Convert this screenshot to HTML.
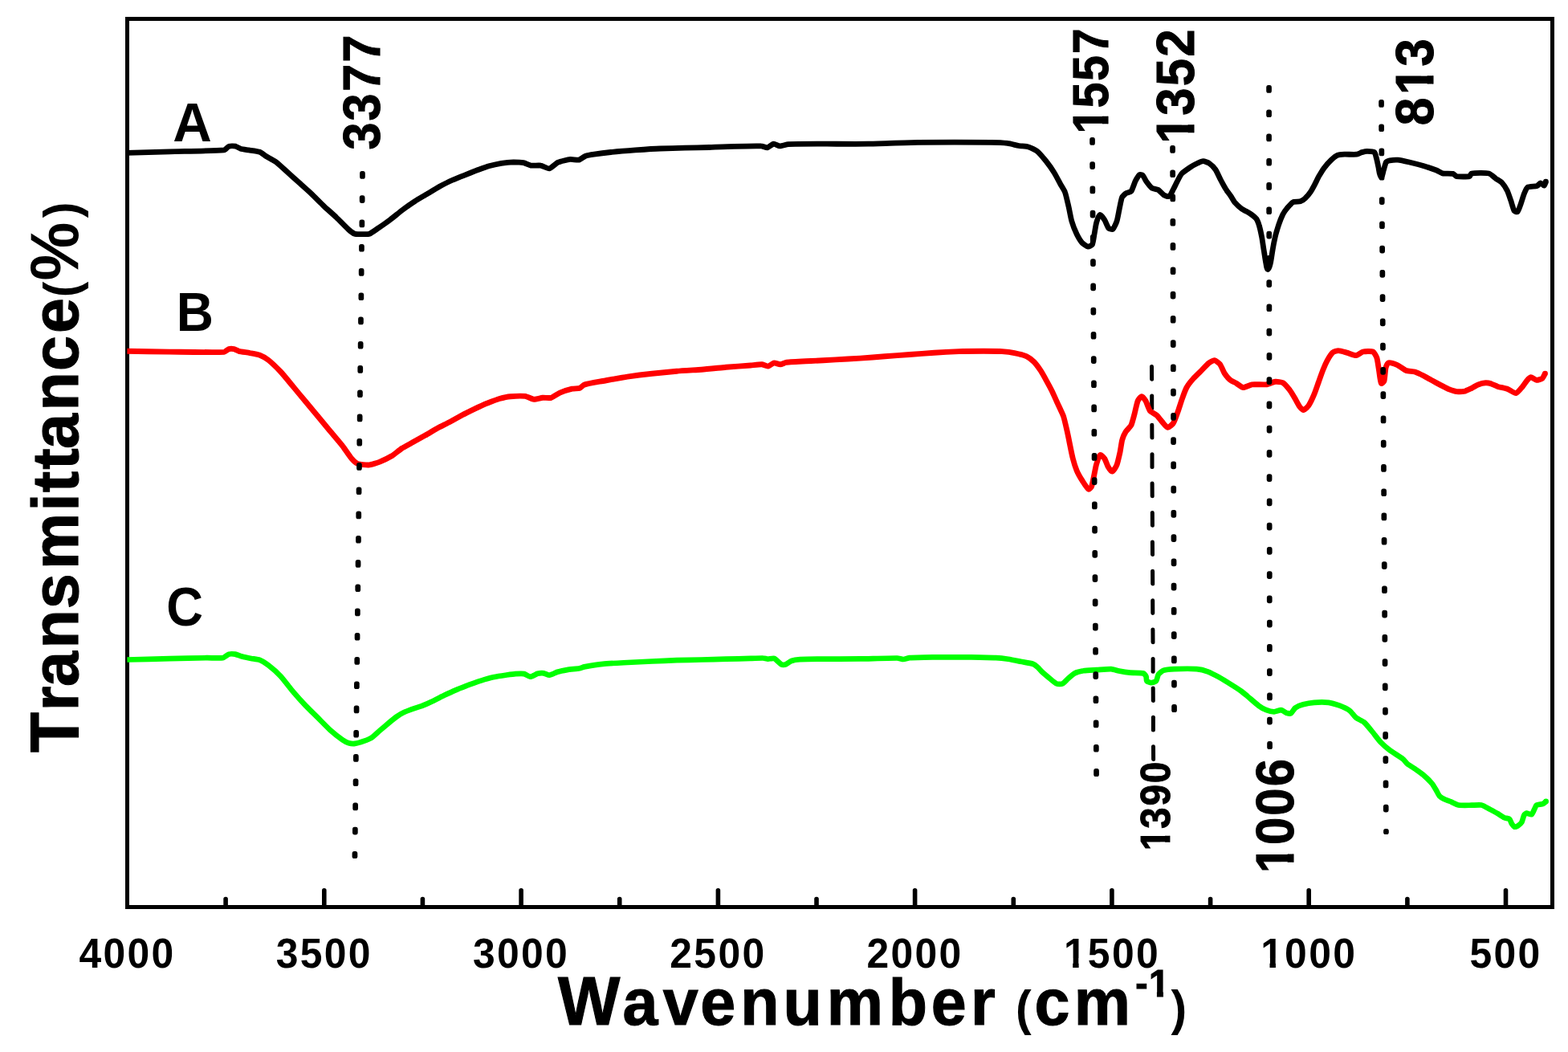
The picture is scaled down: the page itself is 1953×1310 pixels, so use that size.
<!DOCTYPE html>
<html lang="en"><head><meta charset="utf-8"><title>FTIR spectra</title>
<style>
html,body{margin:0;padding:0;background:#fff;}
body{width:1953px;height:1310px;overflow:hidden;}
svg{display:block;}
text{font-family:"Liberation Sans", sans-serif;font-weight:bold;fill:#000;font-kerning:none;font-variant-ligatures:none;white-space:pre;}
.crv{fill:none;stroke-linejoin:round;stroke-linecap:butt;}
</style></head><body>
<svg width="1953" height="1310" viewBox="0 0 1953 1310">
<rect x="0" y="0" width="1953" height="1310" fill="#fff"/>
<g id="frame" shape-rendering="crispEdges">
<rect x="158.5" y="23.5" width="1775.0" height="1106.0" fill="none" stroke="#000" stroke-width="5"/>
</g>
<g id="ticks" stroke="#000" stroke-width="5.6" stroke-linecap="round">
<line x1="1875.5" y1="1108.8" x2="1875.5" y2="1128"/>
<line x1="1752.9" y1="1119.6" x2="1752.9" y2="1128"/>
<line x1="1630.2" y1="1108.8" x2="1630.2" y2="1128"/>
<line x1="1507.6" y1="1119.6" x2="1507.6" y2="1128"/>
<line x1="1384.9" y1="1108.8" x2="1384.9" y2="1128"/>
<line x1="1262.3" y1="1119.6" x2="1262.3" y2="1128"/>
<line x1="1139.6" y1="1108.8" x2="1139.6" y2="1128"/>
<line x1="1017.0" y1="1119.6" x2="1017.0" y2="1128"/>
<line x1="894.4" y1="1108.8" x2="894.4" y2="1128"/>
<line x1="771.7" y1="1119.6" x2="771.7" y2="1128"/>
<line x1="649.1" y1="1108.8" x2="649.1" y2="1128"/>
<line x1="526.4" y1="1119.6" x2="526.4" y2="1128"/>
<line x1="403.8" y1="1108.8" x2="403.8" y2="1128"/>
<line x1="281.1" y1="1119.6" x2="281.1" y2="1128"/>
</g>
<g id="dash1390" stroke="#000" stroke-width="5" stroke-linecap="round">
<line x1="1434.5" y1="456.5" x2="1434.6" y2="472.2"/>
<line x1="1434.7" y1="492.9" x2="1434.7" y2="508.6"/>
<line x1="1434.8" y1="529.3" x2="1434.9" y2="545.0"/>
<line x1="1435.0" y1="565.7" x2="1435.0" y2="581.4"/>
<line x1="1435.1" y1="602.1" x2="1435.2" y2="617.8"/>
<line x1="1435.3" y1="638.5" x2="1435.4" y2="654.2"/>
<line x1="1435.4" y1="674.9" x2="1435.5" y2="690.6"/>
<line x1="1435.6" y1="711.3" x2="1435.7" y2="727.0"/>
<line x1="1435.7" y1="747.7" x2="1435.8" y2="763.4"/>
<line x1="1435.9" y1="784.1" x2="1436.0" y2="799.8"/>
<line x1="1436.1" y1="820.5" x2="1436.1" y2="836.2"/>
<line x1="1436.2" y1="856.9" x2="1436.3" y2="872.6"/>
<line x1="1436.4" y1="893.3" x2="1436.4" y2="909.0"/>
<line x1="1436.5" y1="929.7" x2="1436.6" y2="945.4"/>
</g>
<g id="curves">
<path class="crv" stroke="#000" stroke-width="6.8" d="M158.4 190.4C168.1 190.1 201.7 189.1 211.4 188.8C223.8 188.4 266.7 188.0 279.0 186.9C280.4 186.8 283.8 182.6 285.2 182.2C286.7 181.7 292.1 181.9 293.6 182.2C294.8 182.5 298.6 184.9 299.8 185.3C301.6 185.8 308.0 186.6 309.8 186.9C312.3 187.3 321.2 188.3 323.6 189.2C325.2 189.8 329.8 193.6 331.3 194.5C333.5 195.8 341.4 199.9 343.5 201.4C346.2 203.4 354.9 211.4 357.4 213.7C360.2 216.2 369.9 225.1 372.7 227.6C375.5 230.1 385.3 238.8 388.1 241.4C391.0 244.1 400.6 254.0 403.5 256.7C406.2 259.3 416.1 268.0 418.8 270.6C421.7 273.3 431.2 283.2 434.2 285.9C435.5 287.1 440.3 290.7 441.9 291.3C443.3 291.8 448.5 291.6 450.0 291.6C451.8 291.6 458.3 291.9 460.0 291.3C462.2 290.5 468.8 285.7 470.7 284.4C473.5 282.5 483.3 275.7 486.0 273.6C488.9 271.4 498.5 263.6 501.4 261.4C504.2 259.3 513.9 252.5 516.8 250.6C519.6 248.8 529.4 243.1 532.2 241.4C535.0 239.7 544.6 233.8 547.5 232.2C550.3 230.7 560.0 225.8 562.9 224.5C565.7 223.3 575.4 219.4 578.2 218.3C581.0 217.2 590.8 213.3 593.6 212.2C596.4 211.2 606.1 207.6 609.0 206.8C611.8 206.0 621.5 203.8 624.3 203.3C627.1 202.9 636.9 202.0 639.7 201.9C642.0 201.9 649.8 202.3 652.0 202.7C653.8 203.0 659.4 205.8 661.2 206.1C663.4 206.5 671.3 205.7 673.5 206.1C675.6 206.4 682.2 210.3 684.2 209.9C686.6 209.5 692.8 203.2 695.0 202.2C697.7 201.0 707.5 198.7 710.4 198.4C712.4 198.2 719.2 199.5 721.1 199.1C722.7 198.8 727.3 195.1 728.8 194.5C730.8 193.8 737.9 192.5 740.0 192.2C743.8 191.6 756.9 189.9 760.7 189.5C766.3 188.9 785.8 187.3 791.4 186.9C797.0 186.5 816.5 185.2 822.2 185.0C827.8 184.8 847.3 184.3 852.9 184.2C858.5 184.1 878.0 183.7 883.6 183.5C889.2 183.3 908.7 182.5 914.3 182.4C920.5 182.2 941.9 181.7 948.1 181.9C949.6 181.9 954.4 184.1 955.8 183.8C957.4 183.5 961.9 179.4 963.5 179.2C965.0 179.0 969.7 181.9 971.2 181.9C973.2 181.9 979.9 179.7 981.9 179.6C990.7 179.2 1021.2 179.2 1030.0 179.2C1039.4 179.2 1072.0 179.4 1081.4 179.2C1092.7 179.0 1131.6 177.4 1142.9 177.3C1159.8 177.1 1218.1 177.1 1235.0 177.3C1238.7 177.3 1251.4 177.9 1255.0 178.4C1257.6 178.7 1266.2 181.0 1268.8 181.5C1271.0 181.9 1278.9 182.3 1281.1 183.0C1283.2 183.6 1290.2 187.0 1291.9 188.4C1294.2 190.3 1300.9 198.2 1302.8 200.5C1304.8 203.0 1311.3 212.2 1313.0 215.0C1314.6 217.5 1319.3 226.5 1320.7 229.1C1321.7 231.0 1325.8 237.4 1326.5 239.4C1327.7 242.6 1330.2 254.0 1331.0 257.3C1331.8 260.6 1333.8 272.0 1334.8 275.2C1335.7 278.3 1339.8 288.9 1341.2 291.8C1342.2 293.8 1346.1 300.5 1347.6 302.1C1348.7 303.3 1353.6 306.9 1355.3 307.2C1356.3 307.4 1359.9 305.5 1360.4 304.6C1361.5 302.5 1362.6 294.2 1363.0 291.8C1363.5 289.2 1364.8 280.3 1365.5 277.8C1366.1 275.8 1368.1 268.2 1370.0 267.5C1371.5 266.9 1374.9 272.6 1375.8 273.9C1377.0 275.7 1379.5 282.6 1380.9 284.2C1381.5 284.9 1385.3 286.0 1386.0 285.4C1387.6 284.0 1390.5 277.2 1391.1 275.2C1392.0 272.5 1393.7 262.6 1394.3 259.8C1394.9 257.2 1396.5 248.2 1397.5 245.8C1398.0 244.6 1401.5 241.3 1402.6 240.6C1403.6 239.9 1408.2 239.1 1409.0 238.1C1410.5 236.1 1413.1 227.6 1414.2 225.3C1415.0 223.8 1418.0 218.7 1419.3 217.6C1419.9 217.2 1422.6 217.7 1423.1 218.2C1424.4 219.5 1427.1 225.1 1428.2 226.6C1429.3 228.1 1433.1 233.2 1434.6 234.2C1435.8 235.0 1441.0 235.5 1442.3 236.2C1443.9 237.2 1448.4 242.2 1450.0 243.2C1451.0 243.8 1455.4 245.2 1456.4 244.5C1458.0 243.4 1460.6 237.2 1461.5 235.5C1462.5 233.7 1465.6 227.1 1466.6 225.3C1467.5 223.6 1470.5 217.7 1471.8 216.3C1473.4 214.6 1480.1 209.9 1482.0 208.6C1483.6 207.5 1489.3 204.3 1491.0 203.5C1492.3 202.9 1497.1 200.7 1498.6 200.7C1500.1 200.7 1505.1 202.7 1506.3 203.5C1507.9 204.6 1512.9 209.6 1514.0 211.2C1515.5 213.4 1519.2 221.7 1520.4 224.0C1521.5 226.1 1525.5 233.5 1526.8 235.5C1527.9 237.2 1532.1 242.8 1533.2 244.5C1534.1 245.8 1536.7 250.5 1537.7 251.7C1539.2 253.4 1544.8 258.7 1546.6 260.0C1548.3 261.3 1555.1 264.6 1556.9 265.8C1558.4 266.8 1563.5 270.7 1564.6 272.2C1565.7 273.6 1567.9 279.4 1568.4 281.1C1569.2 283.6 1571.1 292.6 1571.6 295.2C1572.2 298.2 1573.7 308.8 1574.2 311.8C1574.7 314.6 1576.1 324.4 1576.7 327.2C1577.0 328.8 1577.7 335.5 1579.3 335.5C1580.9 335.5 1582.1 328.8 1582.5 327.2C1583.2 324.4 1584.5 314.6 1585.0 311.8C1585.5 308.7 1587.5 298.2 1588.2 295.2C1588.9 292.3 1591.8 282.6 1592.7 279.8C1593.5 277.4 1596.7 269.3 1597.8 267.0C1598.6 265.5 1601.9 260.7 1603.0 259.4C1604.3 257.9 1608.8 252.6 1610.6 251.7C1612.1 250.9 1618.0 251.3 1619.6 250.8C1620.9 250.4 1625.0 247.6 1626.0 246.6C1627.3 245.4 1631.4 240.4 1632.4 238.9C1633.5 237.3 1636.6 231.6 1637.5 229.9C1638.5 228.1 1641.6 221.5 1642.6 219.7C1643.7 217.8 1647.7 211.2 1649.0 209.4C1650.5 207.4 1656.2 200.9 1658.0 199.2C1659.3 198.0 1664.1 194.1 1665.7 193.4C1667.2 192.8 1673.0 192.3 1674.6 192.2C1677.4 192.1 1687.2 192.5 1690.0 192.2C1691.3 192.1 1695.2 190.0 1696.4 189.6C1697.5 189.3 1701.6 188.3 1702.8 188.3C1704.5 188.3 1710.4 188.6 1711.8 189.6C1712.9 190.4 1713.9 195.3 1714.3 196.6C1714.9 198.7 1716.4 206.1 1716.9 208.2C1717.4 210.4 1718.1 219.1 1720.1 220.3C1721.5 221.1 1722.8 213.5 1723.3 212.0C1723.9 210.1 1725.5 203.5 1726.5 201.8C1727.0 201.0 1730.1 200.0 1731.0 199.8C1732.8 199.5 1739.3 199.0 1741.2 199.2C1744.0 199.5 1753.6 201.6 1756.4 202.2C1759.4 202.9 1769.7 205.6 1772.7 206.5C1775.7 207.4 1786.1 210.9 1789.1 212.0C1790.6 212.6 1795.2 215.5 1796.7 215.8C1799.1 216.3 1807.5 215.9 1809.8 216.4C1810.8 216.6 1813.2 219.4 1814.2 219.6C1817.2 220.1 1827.6 220.2 1830.5 219.6C1831.3 219.5 1831.9 216.1 1832.7 216.0C1836.7 215.4 1850.6 215.2 1854.5 216.0C1856.4 216.4 1861.6 221.2 1863.2 222.4C1864.6 223.4 1869.7 226.5 1870.9 227.8C1872.4 229.4 1876.4 235.7 1877.4 237.6C1878.4 239.7 1881.0 247.4 1881.8 249.6C1882.6 252.0 1884.8 260.5 1886.1 262.7C1886.5 263.3 1889.5 264.3 1890.0 263.8C1891.2 262.6 1893.2 256.7 1893.8 255.1C1894.7 252.7 1897.2 244.3 1898.1 242.0C1898.8 240.3 1901.0 234.3 1902.5 233.3C1904.4 232.1 1912.4 232.3 1914.5 231.6C1915.5 231.3 1917.8 227.9 1918.9 227.8C1919.9 227.7 1922.2 231.3 1923.2 231.1C1924.2 230.9 1925.0 227.1 1925.4 226.2"/>
<circle cx="1925.4" cy="226.2" r="3.40" fill="#000"/>
<path class="crv" stroke="#f00" stroke-width="6.9" d="M158.4 437.2C168.1 437.4 201.7 438.0 211.4 438.1C223.8 438.2 266.6 439.0 279.0 438.4C280.3 438.3 283.9 435.0 285.2 434.6C286.3 434.3 290.2 434.4 291.3 434.6C292.5 434.9 296.3 437.0 297.5 437.3C300.0 437.9 308.8 439.1 311.3 439.6C313.6 440.0 321.4 441.4 323.6 442.2C325.7 443.0 332.5 447.0 334.3 448.4C337.3 450.8 347.0 460.2 349.7 463.0C352.7 466.2 362.3 478.0 365.1 481.4C367.9 484.8 377.6 496.4 380.4 499.8C383.2 503.2 393.0 514.9 395.8 518.3C398.6 521.7 408.3 533.3 411.1 536.7C413.9 540.1 423.8 551.6 426.5 555.1C428.7 557.9 435.4 568.1 437.7 570.8C438.9 572.2 443.7 576.7 445.4 577.4C447.8 578.3 456.7 579.2 459.2 579.0C461.8 578.8 470.6 576.1 473.0 575.1C475.9 573.9 485.7 569.1 488.4 567.5C490.8 566.0 498.3 559.7 500.7 558.2C503.1 556.6 512.0 552.0 514.5 550.6C517.3 549.0 527.0 543.7 529.8 542.1C532.6 540.5 542.3 534.5 545.2 532.9C548.0 531.4 557.8 526.7 560.6 525.2C563.4 523.7 573.1 518.3 575.9 516.8C578.7 515.3 588.4 510.5 591.3 509.1C594.1 507.8 603.8 503.4 606.6 502.2C609.4 501.1 619.1 497.3 622.0 496.5C624.5 495.8 633.2 493.9 635.8 493.7C639.2 493.4 650.9 493.0 654.3 493.4C656.4 493.7 662.9 497.1 665.0 497.3C667.0 497.5 673.8 495.5 675.8 495.3C677.8 495.1 684.6 495.8 686.5 495.3C688.7 494.7 695.2 490.0 697.3 489.1C700.0 487.9 709.7 484.9 712.6 484.2C714.3 483.8 720.3 483.9 721.9 483.4C723.2 483.0 726.4 479.5 727.7 479.1C731.8 477.8 746.5 475.3 750.7 474.5C756.3 473.5 775.7 469.9 781.4 469.1C787.0 468.3 806.5 465.9 812.2 465.3C817.8 464.7 837.3 462.7 842.9 462.2C848.5 461.7 868.0 460.6 873.6 460.2C879.2 459.8 898.7 457.8 904.3 457.3C909.9 456.8 929.4 455.4 935.0 455.0C937.5 454.8 946.3 453.7 948.9 453.8C950.4 453.9 955.1 456.3 956.6 456.1C958.2 455.9 962.6 452.1 964.2 451.9C965.6 451.7 970.4 453.9 971.9 453.8C973.4 453.7 978.1 451.4 979.6 451.2C985.1 450.6 1004.4 449.8 1010.0 449.5C1015.6 449.2 1035.1 448.2 1040.7 447.9C1046.3 447.6 1065.8 446.5 1071.4 446.1C1077.0 445.7 1096.6 444.2 1102.2 443.8C1107.8 443.4 1127.3 441.9 1132.9 441.5C1138.5 441.1 1158.0 439.6 1163.6 439.2C1169.2 438.8 1188.7 437.8 1194.3 437.6C1199.9 437.4 1219.4 437.3 1225.0 437.3C1229.2 437.3 1243.9 437.3 1248.1 437.6C1250.9 437.8 1260.7 439.0 1263.5 439.6C1266.4 440.2 1276.2 442.6 1278.8 443.8C1280.7 444.7 1286.5 449.2 1288.0 450.7C1289.8 452.5 1294.9 459.5 1296.3 461.6C1297.7 463.7 1301.8 471.1 1303.0 473.3C1304.4 475.8 1309.0 484.4 1310.3 487.0C1311.7 489.9 1316.3 500.3 1317.7 503.3C1319.0 506.1 1323.6 515.6 1324.6 518.5C1325.6 521.5 1328.0 532.0 1328.7 535.1C1329.4 538.1 1331.6 548.7 1332.2 551.7C1332.9 555.2 1335.4 567.5 1336.3 571.0C1337.0 573.8 1340.1 583.5 1341.2 586.2C1342.2 588.6 1346.7 596.5 1348.1 598.7C1349.4 600.7 1353.8 607.9 1355.8 609.2C1356.6 609.7 1359.1 606.8 1359.5 606.0C1360.3 604.3 1361.5 597.8 1361.9 595.9C1362.6 592.9 1364.5 582.3 1365.3 579.3C1366.0 576.9 1368.3 568.2 1370.2 566.7C1371.2 565.9 1375.0 569.9 1375.7 571.0C1376.8 572.6 1378.9 579.0 1379.9 580.7C1380.7 582.0 1383.5 587.3 1385.0 587.1C1386.8 586.9 1390.2 581.0 1390.9 579.3C1392.1 576.4 1394.4 565.8 1395.1 562.7C1395.7 559.9 1397.0 550.2 1397.8 547.5C1398.3 545.6 1401.0 539.4 1402.0 537.8C1403.0 536.1 1408.0 531.3 1408.9 529.5C1410.1 527.1 1412.3 518.2 1413.0 515.7C1413.8 512.7 1416.0 502.0 1417.2 499.1C1417.7 497.9 1420.7 493.6 1422.0 493.6C1423.4 493.6 1426.2 497.9 1426.9 499.1C1428.2 501.3 1430.9 509.6 1432.4 511.6C1433.5 513.0 1439.3 515.9 1440.7 517.1C1442.2 518.4 1446.3 523.9 1447.6 525.4C1448.8 526.7 1452.7 532.1 1454.5 532.3C1456.1 532.5 1460.5 528.2 1461.4 526.8C1462.9 524.5 1466.1 515.5 1467.0 512.9C1468.1 509.9 1471.4 499.4 1472.5 496.4C1473.4 493.8 1476.7 484.9 1478.0 482.5C1479.2 480.3 1484.6 473.4 1486.3 471.5C1488.2 469.3 1495.4 462.4 1497.4 460.4C1498.9 458.9 1504.0 453.4 1505.7 452.1C1506.8 451.2 1511.2 448.6 1512.6 448.7C1514.1 448.9 1518.6 452.3 1519.5 453.5C1520.9 455.3 1523.8 462.7 1525.0 464.6C1526.1 466.3 1530.4 471.6 1531.9 472.9C1533.2 474.0 1538.7 476.6 1540.2 477.5C1541.7 478.4 1546.6 482.4 1548.4 482.5C1550.5 482.6 1557.3 479.1 1559.4 478.8C1562.7 478.4 1574.0 479.2 1577.3 478.8C1579.4 478.5 1586.3 475.5 1588.4 475.3C1590.2 475.1 1596.5 475.8 1598.1 476.7C1600.0 477.8 1605.0 483.9 1606.4 485.7C1607.8 487.6 1612.1 494.7 1613.3 496.8C1614.3 498.6 1617.6 504.9 1618.8 506.5C1619.5 507.4 1622.5 510.7 1623.6 510.6C1625.1 510.4 1629.0 506.4 1629.9 505.1C1631.5 502.7 1635.7 493.8 1636.8 491.2C1638.0 488.5 1641.3 478.8 1642.3 476.0C1643.3 473.2 1646.7 463.5 1647.8 460.8C1648.7 458.5 1652.2 450.6 1653.4 448.4C1654.5 446.5 1658.6 440.1 1660.3 438.7C1661.3 437.8 1665.9 436.5 1667.2 436.6C1669.3 436.7 1676.3 438.9 1678.3 439.4C1680.3 440.0 1687.2 442.8 1689.3 442.6C1691.0 442.5 1695.9 438.4 1697.6 438.0C1699.8 437.5 1708.0 437.1 1710.1 438.0C1711.6 438.7 1714.4 444.0 1714.9 445.6C1715.8 448.5 1717.2 459.2 1717.7 462.2C1718.2 465.0 1719.1 474.9 1720.4 477.4C1720.8 478.1 1723.7 475.5 1723.9 474.7C1724.8 471.8 1725.3 461.1 1726.0 458.1C1726.3 456.8 1728.1 452.1 1729.4 451.8C1731.4 451.3 1738.6 453.8 1740.5 454.6C1742.7 455.6 1749.3 460.6 1751.5 461.5C1753.3 462.2 1760.3 462.4 1762.2 463.0C1764.4 463.7 1771.5 467.1 1773.5 468.1C1775.4 469.1 1781.8 472.8 1783.7 473.8C1785.6 474.8 1792.1 478.4 1794.0 479.4C1795.9 480.4 1802.3 483.7 1804.2 484.5C1806.0 485.2 1812.5 487.4 1814.4 487.6C1816.3 487.8 1822.9 487.5 1824.7 487.1C1826.3 486.7 1831.4 484.2 1832.9 483.5C1834.4 482.7 1839.5 479.5 1841.1 478.9C1842.7 478.3 1848.6 476.9 1850.3 476.8C1851.6 476.7 1856.2 477.5 1857.5 477.9C1859.0 478.4 1864.1 480.9 1865.6 481.4C1867.8 482.1 1875.7 483.7 1877.9 484.5C1879.9 485.2 1886.1 489.9 1888.2 489.6C1890.3 489.2 1895.0 483.0 1896.4 481.4C1897.5 480.2 1900.4 475.5 1901.5 474.3C1902.3 473.4 1905.3 469.8 1906.6 469.7C1908.1 469.6 1912.3 473.1 1913.8 473.3C1915.2 473.4 1919.9 472.0 1921.0 471.2C1922.0 470.4 1923.9 466.2 1924.5 465.1"/>
<circle cx="1924.5" cy="465.1" r="3.45" fill="#f00"/>
<path class="crv" stroke="#0f0" stroke-width="6.7" d="M158.4 821.5C168.1 821.3 201.7 820.4 211.4 820.2C219.9 820.0 249.0 819.3 257.5 819.2C261.2 819.1 273.9 819.8 277.5 819.2C279.1 818.9 283.6 815.1 285.2 814.6C286.6 814.2 291.5 814.4 292.9 814.6C294.4 814.9 299.1 816.9 300.5 817.3C302.7 817.9 310.5 819.4 312.8 819.9C314.8 820.3 321.7 821.2 323.6 821.9C325.7 822.7 332.5 827.0 334.3 828.4C337.3 830.7 347.1 839.4 349.7 842.2C352.8 845.5 362.2 858.0 365.1 861.4C367.8 864.6 377.5 875.3 380.4 878.3C383.2 881.2 393.0 890.9 395.8 893.7C398.6 896.5 408.2 906.3 411.1 909.0C413.8 911.4 423.5 919.2 426.5 921.3C427.8 922.2 432.7 924.8 434.2 925.2C435.6 925.6 440.7 926.1 442.1 925.9C444.2 925.6 451.0 923.6 453.0 922.9C454.7 922.3 460.8 920.0 462.3 919.0C464.5 917.6 471.0 911.5 473.0 909.8C475.0 908.1 481.8 902.3 483.8 900.6C485.7 899.0 492.4 893.5 494.5 892.1C496.1 891.0 501.9 887.6 503.7 886.8C505.9 885.8 513.7 882.9 516.0 882.1C517.7 881.5 523.5 879.7 525.2 879.1C527.5 878.2 535.3 874.8 537.5 873.7C540.4 872.4 550.0 867.4 552.9 866.0C555.7 864.7 565.4 860.3 568.2 859.1C571.0 857.9 580.8 854.1 583.6 853.0C586.4 852.0 596.1 848.5 599.0 847.6C601.8 846.7 611.5 843.9 614.3 843.3C617.1 842.7 626.9 841.1 629.7 840.7C631.9 840.4 639.7 839.3 642.0 839.1C644.0 839.0 650.8 838.7 652.7 839.1C654.2 839.4 658.8 842.7 660.4 842.7C662.2 842.7 667.8 839.3 669.6 838.8C671.0 838.5 675.9 838.2 677.3 838.4C678.6 838.6 682.9 840.8 684.2 840.7C686.2 840.5 692.3 837.4 694.2 836.8C696.4 836.1 704.2 834.5 706.5 834.1C709.3 833.6 719.1 832.7 721.9 832.2C723.0 832.0 726.6 830.6 727.7 830.4C731.9 829.6 746.5 827.2 750.7 826.8C756.3 826.2 775.8 825.3 781.4 825.0C787.0 824.7 806.6 823.8 812.2 823.5C817.8 823.2 837.3 822.4 842.9 822.2C848.5 822.0 868.0 821.6 873.6 821.5C879.2 821.4 898.7 820.8 904.3 820.7C909.9 820.6 929.4 820.0 935.0 819.9C937.8 819.8 947.6 819.4 950.4 819.5C951.6 819.5 955.4 820.7 956.6 820.7C958.0 820.7 962.9 819.4 964.2 819.9C966.2 820.7 971.6 826.5 973.5 827.6C974.2 828.0 977.3 827.9 978.1 827.6C979.6 827.0 984.2 823.5 985.7 823.0C987.6 822.3 994.5 821.3 996.5 821.2C1000.8 820.9 1015.7 820.7 1020.0 820.7C1029.4 820.6 1062.0 820.5 1071.4 820.4C1079.9 820.3 1109.0 819.4 1117.5 819.5C1118.9 819.5 1123.8 821.0 1125.2 821.0C1126.6 821.0 1131.5 819.3 1132.9 819.2C1138.5 818.8 1158.0 818.5 1163.6 818.4C1172.1 818.3 1201.2 818.3 1209.7 818.4C1215.3 818.5 1234.8 818.9 1240.4 819.2C1243.2 819.3 1253.0 820.3 1255.8 820.7C1258.6 821.1 1268.3 823.2 1271.1 823.8C1273.9 824.4 1283.8 825.9 1286.5 826.8C1287.7 827.2 1291.1 829.7 1292.0 830.5C1293.3 831.6 1297.1 835.9 1298.3 837.0C1300.0 838.6 1306.2 843.8 1308.0 845.3C1309.5 846.5 1314.5 850.8 1316.3 851.5C1317.5 852.0 1322.0 852.0 1323.2 851.5C1324.8 850.8 1328.8 846.4 1330.1 845.3C1331.6 844.0 1336.6 839.3 1338.4 838.4C1340.3 837.4 1347.4 835.6 1349.5 835.3C1352.5 834.8 1363.0 834.4 1366.0 834.2C1369.3 834.0 1380.7 832.9 1384.0 833.1C1385.8 833.2 1391.9 835.2 1393.7 835.6C1396.2 836.1 1405.0 837.5 1407.5 837.7C1410.5 838.0 1421.1 837.7 1424.1 838.4C1425.1 838.6 1427.2 841.6 1427.6 842.5C1428.0 843.4 1427.6 847.3 1428.3 848.1C1429.0 848.9 1432.7 850.1 1433.8 850.1C1435.0 850.1 1439.2 849.0 1440.0 848.1C1441.1 846.9 1441.9 841.1 1442.8 839.8C1443.6 838.6 1447.6 835.4 1449.0 834.9C1451.4 834.1 1460.3 833.2 1462.8 833.1C1467.9 832.9 1485.4 832.7 1490.5 833.1C1493.1 833.3 1501.9 835.4 1504.3 836.3C1507.0 837.3 1515.6 841.8 1518.1 843.2C1520.7 844.6 1529.4 849.9 1531.9 851.5C1534.5 853.1 1543.3 858.7 1545.8 860.5C1547.3 861.6 1552.3 865.8 1553.8 867.0C1556.3 869.1 1564.9 876.7 1567.6 878.7C1569.2 879.9 1575.4 883.5 1577.3 884.2C1579.0 884.9 1585.2 886.3 1587.0 886.3C1588.7 886.3 1594.3 884.0 1596.0 884.2C1597.3 884.3 1601.0 887.3 1602.2 887.7C1603.2 888.0 1606.8 888.9 1607.7 888.4C1609.1 887.6 1612.0 882.5 1613.3 881.5C1614.9 880.4 1621.1 877.8 1623.0 877.3C1625.5 876.6 1634.2 875.0 1636.8 874.8C1640.1 874.5 1651.5 874.4 1654.8 874.8C1657.4 875.1 1666.1 877.8 1668.6 878.7C1671.0 879.6 1679.0 883.4 1681.0 884.9C1682.8 886.2 1687.6 892.5 1689.3 893.9C1690.9 895.2 1697.4 898.1 1699.0 899.4C1701.1 901.2 1707.0 908.4 1708.7 910.5C1710.8 913.0 1717.5 921.9 1719.7 924.3C1721.6 926.3 1728.6 932.4 1730.8 934.0C1733.7 936.2 1744.5 942.8 1747.4 945.1C1748.6 946.0 1751.8 950.3 1753.0 951.3C1754.7 952.7 1761.4 956.6 1763.2 957.9C1765.1 959.2 1771.7 964.0 1773.5 965.6C1775.5 967.3 1782.0 973.8 1783.7 975.8C1784.8 977.2 1787.9 982.5 1788.8 984.0C1789.6 985.3 1791.9 990.1 1792.9 991.2C1793.8 992.2 1797.9 994.7 1799.1 995.3C1800.5 996.0 1805.8 997.8 1807.3 998.4C1809.0 999.1 1814.7 1002.2 1816.5 1002.5C1819.5 1003.0 1829.9 1002.7 1832.9 1002.7C1835.2 1002.7 1843.0 1002.0 1845.2 1002.5C1847.2 1002.9 1853.5 1006.6 1855.4 1007.6C1857.3 1008.6 1863.8 1012.1 1865.6 1013.2C1867.1 1014.1 1872.2 1017.6 1873.8 1018.3C1874.9 1018.8 1879.1 1019.2 1880.0 1019.9C1881.0 1020.7 1882.4 1024.9 1883.1 1026.0C1883.6 1026.7 1885.3 1029.3 1886.1 1029.6C1886.8 1029.9 1889.5 1029.0 1890.2 1028.6C1891.3 1027.9 1894.7 1025.1 1895.3 1024.0C1896.2 1022.5 1897.5 1016.4 1898.4 1014.8C1898.7 1014.2 1900.8 1012.7 1901.5 1012.7C1902.6 1012.6 1906.6 1014.7 1907.6 1014.2C1908.8 1013.6 1910.6 1008.8 1911.2 1007.6C1911.7 1006.7 1912.9 1003.1 1913.8 1002.5C1915.1 1001.7 1920.6 1001.5 1922.0 1000.9C1922.8 1000.6 1924.9 998.4 1925.6 997.9"/>
<circle cx="1925.6" cy="997.9" r="3.35" fill="#0f0"/>
</g>
<g id="dots" fill="#000">
<rect x="448.1" y="213.1" width="6.7" height="9.7" rx="2.6" ry="2.9"/>
<rect x="447.8" y="243.3" width="6.7" height="9.7" rx="2.6" ry="2.9"/>
<rect x="447.5" y="273.6" width="6.7" height="9.7" rx="2.6" ry="2.9"/>
<rect x="447.1" y="303.9" width="6.7" height="9.7" rx="2.6" ry="2.9"/>
<rect x="446.8" y="334.1" width="6.7" height="9.7" rx="2.6" ry="2.9"/>
<rect x="446.5" y="364.4" width="6.7" height="9.7" rx="2.6" ry="2.9"/>
<rect x="446.1" y="394.6" width="6.7" height="9.7" rx="2.6" ry="2.9"/>
<rect x="445.8" y="424.9" width="6.7" height="9.7" rx="2.6" ry="2.9"/>
<rect x="445.4" y="455.1" width="6.7" height="9.7" rx="2.6" ry="2.9"/>
<rect x="445.1" y="485.4" width="6.7" height="9.7" rx="2.6" ry="2.9"/>
<rect x="444.8" y="515.6" width="6.7" height="9.7" rx="2.6" ry="2.9"/>
<rect x="444.4" y="545.9" width="6.7" height="9.7" rx="2.6" ry="2.9"/>
<rect x="444.1" y="576.1" width="6.7" height="9.7" rx="2.6" ry="2.9"/>
<rect x="443.7" y="606.4" width="6.7" height="9.7" rx="2.6" ry="2.9"/>
<rect x="443.4" y="636.6" width="6.7" height="9.7" rx="2.6" ry="2.9"/>
<rect x="443.1" y="666.9" width="6.7" height="9.7" rx="2.6" ry="2.9"/>
<rect x="442.7" y="697.1" width="6.7" height="9.7" rx="2.6" ry="2.9"/>
<rect x="442.4" y="727.4" width="6.7" height="9.7" rx="2.6" ry="2.9"/>
<rect x="442.0" y="757.6" width="6.7" height="9.7" rx="2.6" ry="2.9"/>
<rect x="441.7" y="787.9" width="6.7" height="9.7" rx="2.6" ry="2.9"/>
<rect x="441.4" y="818.1" width="6.7" height="9.7" rx="2.6" ry="2.9"/>
<rect x="441.0" y="848.4" width="6.7" height="9.7" rx="2.6" ry="2.9"/>
<rect x="440.7" y="878.6" width="6.7" height="9.7" rx="2.6" ry="2.9"/>
<rect x="440.3" y="908.9" width="6.7" height="9.7" rx="2.6" ry="2.9"/>
<rect x="440.0" y="939.1" width="6.7" height="9.7" rx="2.6" ry="2.9"/>
<rect x="439.7" y="969.4" width="6.7" height="9.7" rx="2.6" ry="2.9"/>
<rect x="439.3" y="999.6" width="6.7" height="9.7" rx="2.6" ry="2.9"/>
<rect x="439.0" y="1029.8" width="6.7" height="9.7" rx="2.6" ry="2.9"/>
<rect x="438.6" y="1060.1" width="6.7" height="9" rx="2.6" ry="2.9"/>
<rect x="1357.2" y="171.1" width="6.7" height="9.7" rx="2.6" ry="2.9"/>
<rect x="1357.3" y="201.3" width="6.7" height="9.7" rx="2.6" ry="2.9"/>
<rect x="1357.5" y="231.6" width="6.7" height="9.7" rx="2.6" ry="2.9"/>
<rect x="1357.7" y="261.8" width="6.7" height="9.7" rx="2.6" ry="2.9"/>
<rect x="1357.9" y="292.0" width="6.7" height="9.7" rx="2.6" ry="2.9"/>
<rect x="1358.1" y="322.3" width="6.7" height="9.7" rx="2.6" ry="2.9"/>
<rect x="1358.3" y="352.5" width="6.7" height="9.7" rx="2.6" ry="2.9"/>
<rect x="1358.5" y="382.7" width="6.7" height="9.7" rx="2.6" ry="2.9"/>
<rect x="1358.7" y="412.9" width="6.7" height="9.7" rx="2.6" ry="2.9"/>
<rect x="1358.9" y="443.2" width="6.7" height="9.7" rx="2.6" ry="2.9"/>
<rect x="1359.1" y="473.4" width="6.7" height="9.7" rx="2.6" ry="2.9"/>
<rect x="1359.3" y="503.6" width="6.7" height="9.7" rx="2.6" ry="2.9"/>
<rect x="1359.5" y="533.9" width="6.7" height="9.7" rx="2.6" ry="2.9"/>
<rect x="1359.7" y="564.1" width="6.7" height="9.7" rx="2.6" ry="2.9"/>
<rect x="1359.8" y="594.3" width="6.7" height="9.7" rx="2.6" ry="2.9"/>
<rect x="1360.0" y="624.6" width="6.7" height="9.7" rx="2.6" ry="2.9"/>
<rect x="1360.2" y="654.8" width="6.7" height="9.7" rx="2.6" ry="2.9"/>
<rect x="1360.4" y="685.0" width="6.7" height="9.7" rx="2.6" ry="2.9"/>
<rect x="1360.6" y="715.3" width="6.7" height="9.7" rx="2.6" ry="2.9"/>
<rect x="1360.8" y="745.5" width="6.7" height="9.7" rx="2.6" ry="2.9"/>
<rect x="1361.0" y="775.7" width="6.7" height="9.7" rx="2.6" ry="2.9"/>
<rect x="1361.2" y="805.9" width="6.7" height="9.7" rx="2.6" ry="2.9"/>
<rect x="1361.4" y="836.2" width="6.7" height="9.7" rx="2.6" ry="2.9"/>
<rect x="1361.6" y="866.4" width="6.7" height="9.7" rx="2.6" ry="2.9"/>
<rect x="1361.8" y="896.6" width="6.7" height="9.7" rx="2.6" ry="2.9"/>
<rect x="1362.0" y="926.9" width="6.7" height="9.7" rx="2.6" ry="2.9"/>
<rect x="1362.2" y="957.1" width="6.7" height="10" rx="2.6" ry="2.9"/>
<rect x="1457.2" y="181.1" width="6.7" height="9.7" rx="2.6" ry="2.9"/>
<rect x="1457.3" y="211.4" width="6.7" height="9.7" rx="2.6" ry="2.9"/>
<rect x="1457.4" y="241.6" width="6.7" height="9.7" rx="2.6" ry="2.9"/>
<rect x="1457.5" y="271.9" width="6.7" height="9.7" rx="2.6" ry="2.9"/>
<rect x="1457.6" y="302.1" width="6.7" height="9.7" rx="2.6" ry="2.9"/>
<rect x="1457.7" y="332.4" width="6.7" height="9.7" rx="2.6" ry="2.9"/>
<rect x="1457.7" y="362.7" width="6.7" height="9.7" rx="2.6" ry="2.9"/>
<rect x="1457.8" y="392.9" width="6.7" height="9.7" rx="2.6" ry="2.9"/>
<rect x="1457.9" y="423.2" width="6.7" height="9.7" rx="2.6" ry="2.9"/>
<rect x="1458.0" y="453.4" width="6.7" height="9.7" rx="2.6" ry="2.9"/>
<rect x="1458.1" y="483.7" width="6.7" height="9.7" rx="2.6" ry="2.9"/>
<rect x="1458.2" y="514.0" width="6.7" height="9.7" rx="2.6" ry="2.9"/>
<rect x="1458.2" y="544.2" width="6.7" height="9.7" rx="2.6" ry="2.9"/>
<rect x="1458.3" y="574.5" width="6.7" height="9.7" rx="2.6" ry="2.9"/>
<rect x="1458.4" y="604.8" width="6.7" height="9.7" rx="2.6" ry="2.9"/>
<rect x="1458.5" y="635.0" width="6.7" height="9.7" rx="2.6" ry="2.9"/>
<rect x="1458.6" y="665.3" width="6.7" height="9.7" rx="2.6" ry="2.9"/>
<rect x="1458.7" y="695.5" width="6.7" height="9.7" rx="2.6" ry="2.9"/>
<rect x="1458.7" y="725.8" width="6.7" height="9.7" rx="2.6" ry="2.9"/>
<rect x="1458.8" y="756.1" width="6.7" height="9.7" rx="2.6" ry="2.9"/>
<rect x="1458.9" y="786.3" width="6.7" height="9.7" rx="2.6" ry="2.9"/>
<rect x="1459.0" y="816.6" width="6.7" height="9.7" rx="2.6" ry="2.9"/>
<rect x="1459.1" y="846.8" width="6.7" height="9.7" rx="2.6" ry="2.9"/>
<rect x="1459.2" y="877.1" width="6.7" height="10" rx="2.6" ry="2.9"/>
<rect x="1577.2" y="106.1" width="6.7" height="9.7" rx="2.6" ry="2.9"/>
<rect x="1577.2" y="136.4" width="6.7" height="9.7" rx="2.6" ry="2.9"/>
<rect x="1577.2" y="166.6" width="6.7" height="9.7" rx="2.6" ry="2.9"/>
<rect x="1577.3" y="196.9" width="6.7" height="9.7" rx="2.6" ry="2.9"/>
<rect x="1577.3" y="227.1" width="6.7" height="9.7" rx="2.6" ry="2.9"/>
<rect x="1577.3" y="257.4" width="6.7" height="9.7" rx="2.6" ry="2.9"/>
<rect x="1577.4" y="287.7" width="6.7" height="9.7" rx="2.6" ry="2.9"/>
<rect x="1577.4" y="317.9" width="6.7" height="9.7" rx="2.6" ry="2.9"/>
<rect x="1577.4" y="348.2" width="6.7" height="9.7" rx="2.6" ry="2.9"/>
<rect x="1577.5" y="378.4" width="6.7" height="9.7" rx="2.6" ry="2.9"/>
<rect x="1577.5" y="408.7" width="6.7" height="9.7" rx="2.6" ry="2.9"/>
<rect x="1577.6" y="439.0" width="6.7" height="9.7" rx="2.6" ry="2.9"/>
<rect x="1577.6" y="469.2" width="6.7" height="9.7" rx="2.6" ry="2.9"/>
<rect x="1577.6" y="499.5" width="6.7" height="9.7" rx="2.6" ry="2.9"/>
<rect x="1577.7" y="529.7" width="6.7" height="9.7" rx="2.6" ry="2.9"/>
<rect x="1577.7" y="560.0" width="6.7" height="9.7" rx="2.6" ry="2.9"/>
<rect x="1577.7" y="590.2" width="6.7" height="9.7" rx="2.6" ry="2.9"/>
<rect x="1577.8" y="620.5" width="6.7" height="9.7" rx="2.6" ry="2.9"/>
<rect x="1577.8" y="650.8" width="6.7" height="9.7" rx="2.6" ry="2.9"/>
<rect x="1577.9" y="681.0" width="6.7" height="9.7" rx="2.6" ry="2.9"/>
<rect x="1577.9" y="711.3" width="6.7" height="9.7" rx="2.6" ry="2.9"/>
<rect x="1577.9" y="741.5" width="6.7" height="9.7" rx="2.6" ry="2.9"/>
<rect x="1578.0" y="771.8" width="6.7" height="9.7" rx="2.6" ry="2.9"/>
<rect x="1578.0" y="802.1" width="6.7" height="9.7" rx="2.6" ry="2.9"/>
<rect x="1578.0" y="832.3" width="6.7" height="9.7" rx="2.6" ry="2.9"/>
<rect x="1578.1" y="862.6" width="6.7" height="9.7" rx="2.6" ry="2.9"/>
<rect x="1578.1" y="892.8" width="6.7" height="9.7" rx="2.6" ry="2.9"/>
<rect x="1578.2" y="923.1" width="6.7" height="10" rx="2.6" ry="2.9"/>
<rect x="1717.2" y="124.1" width="6.7" height="9.7" rx="2.6" ry="2.9"/>
<rect x="1717.3" y="154.4" width="6.7" height="9.7" rx="2.6" ry="2.9"/>
<rect x="1717.5" y="184.6" width="6.7" height="9.7" rx="2.6" ry="2.9"/>
<rect x="1717.7" y="214.9" width="6.7" height="9.7" rx="2.6" ry="2.9"/>
<rect x="1717.9" y="245.2" width="6.7" height="9.7" rx="2.6" ry="2.9"/>
<rect x="1718.1" y="275.4" width="6.7" height="9.7" rx="2.6" ry="2.9"/>
<rect x="1718.3" y="305.7" width="6.7" height="9.7" rx="2.6" ry="2.9"/>
<rect x="1718.5" y="336.0" width="6.7" height="9.7" rx="2.6" ry="2.9"/>
<rect x="1718.7" y="366.2" width="6.7" height="9.7" rx="2.6" ry="2.9"/>
<rect x="1718.9" y="396.5" width="6.7" height="9.7" rx="2.6" ry="2.9"/>
<rect x="1719.1" y="426.8" width="6.7" height="9.7" rx="2.6" ry="2.9"/>
<rect x="1719.3" y="457.0" width="6.7" height="9.7" rx="2.6" ry="2.9"/>
<rect x="1719.5" y="487.3" width="6.7" height="9.7" rx="2.6" ry="2.9"/>
<rect x="1719.7" y="517.6" width="6.7" height="9.7" rx="2.6" ry="2.9"/>
<rect x="1719.9" y="547.8" width="6.7" height="9.7" rx="2.6" ry="2.9"/>
<rect x="1720.1" y="578.1" width="6.7" height="9.7" rx="2.6" ry="2.9"/>
<rect x="1720.3" y="608.4" width="6.7" height="9.7" rx="2.6" ry="2.9"/>
<rect x="1720.5" y="638.6" width="6.7" height="9.7" rx="2.6" ry="2.9"/>
<rect x="1720.7" y="668.9" width="6.7" height="9.7" rx="2.6" ry="2.9"/>
<rect x="1720.9" y="699.2" width="6.7" height="9.7" rx="2.6" ry="2.9"/>
<rect x="1721.1" y="729.4" width="6.7" height="9.7" rx="2.6" ry="2.9"/>
<rect x="1721.3" y="759.7" width="6.7" height="9.7" rx="2.6" ry="2.9"/>
<rect x="1721.5" y="790.0" width="6.7" height="9.7" rx="2.6" ry="2.9"/>
<rect x="1721.7" y="820.2" width="6.7" height="9.7" rx="2.6" ry="2.9"/>
<rect x="1721.9" y="850.5" width="6.7" height="9.7" rx="2.6" ry="2.9"/>
<rect x="1722.1" y="880.8" width="6.7" height="9.7" rx="2.6" ry="2.9"/>
<rect x="1722.3" y="911.0" width="6.7" height="9.7" rx="2.6" ry="2.9"/>
<rect x="1722.5" y="941.3" width="6.7" height="9.7" rx="2.6" ry="2.9"/>
<rect x="1722.7" y="971.6" width="6.7" height="9.7" rx="2.6" ry="2.9"/>
<rect x="1722.9" y="1001.8" width="6.7" height="9.7" rx="2.6" ry="2.9"/>
<rect x="1723.1" y="1032.1" width="6.7" height="7" rx="2.6" ry="2.9"/>
</g>
<g id="ticklabels">
<text transform="translate(1874.3 1204.5) scale(1 1.05)" font-size="49.8" x="-43.9 -13.9 16.2">500</text>
<clipPath id="c1" clipPathUnits="userSpaceOnUse"><path clip-rule="evenodd" d="M-259 -200H331V200H-259ZM-57.83 -10.96H-47.50V2.99H-57.83ZM-40.07 -10.96H-30.44V2.99H-40.07Z"/></clipPath>
<text transform="translate(1629.0 1204.5) scale(1 1.05)" font-size="49.8" x="-58.8 -28.9 1.2 31.2" clip-path="url(#c1)">1000</text>
<clipPath id="c2" clipPathUnits="userSpaceOnUse"><path clip-rule="evenodd" d="M-259 -200H331V200H-259ZM-57.83 -10.96H-47.50V2.99H-57.83ZM-40.07 -10.96H-30.44V2.99H-40.07Z"/></clipPath>
<text transform="translate(1383.7 1204.5) scale(1 1.05)" font-size="49.8" x="-58.8 -28.9 1.2 31.2" clip-path="url(#c2)">1500</text>
<text transform="translate(1138.4 1204.5) scale(1 1.05)" font-size="49.8" x="-58.9 -28.9 1.2 31.2">2000</text>
<text transform="translate(893.2 1204.5) scale(1 1.05)" font-size="49.8" x="-58.9 -28.9 1.2 31.2">2500</text>
<text transform="translate(647.9 1204.5) scale(1 1.05)" font-size="49.8" x="-58.9 -28.9 1.2 31.2">3000</text>
<text transform="translate(402.6 1204.5) scale(1 1.05)" font-size="49.8" x="-58.9 -28.9 1.2 31.2">3500</text>
<text transform="translate(157.3 1204.5) scale(1 1.05)" font-size="49.8" x="-58.9 -28.9 1.2 31.2">4000</text>
</g>
<clipPath id="c3" clipPathUnits="userSpaceOnUse"><path clip-rule="evenodd" d="M495 -200H1759V200H495ZM1431.95 -43.74H1440.92V-30.86H1431.95ZM1448.93 -43.74H1457.25V-30.86H1448.93Z"/></clipPath>
<text id="xtitle" transform="translate(0 1276.1) scale(1 1.035)" font-size="79.0" x="695.1 775.4 825.8 872.3 922.2 975.5 1029.8 1106.8 1159.7 1209.1 1245.0 1264.9 1288.6 1337.7 1414.3 1431.0 1458.6" y="0.0 0.0 0.0 0.0 0.0 0.0 0.0 0.0 0.0 0.0 0.0 0.0 0.0 0.0 -33.6 -33.6 0.0" stroke="#000" stroke-width="1.1" stroke-linejoin="miter" clip-path="url(#c3)"><tspan font-size="82">W</tspan>avenumber <tspan font-size="59" stroke="none">(</tspan>cm<tspan font-size="46">-1</tspan><tspan font-size="59" stroke="none">)</tspan></text>
<text id="ytitle" transform="translate(97.0 938.4) rotate(-90) scale(1 1.035)" font-size="79.0" x="1.3 53.2 83.4 130.9 180.2 229.5 301.8 325.2 353.7 379.5 427.0 476.4 523.3 568.1 589.0 667.1" stroke="#000" stroke-width="1.1" stroke-linejoin="miter"><tspan font-size="82">T</tspan>ransmittance<tspan font-size="59" stroke="none">(</tspan><tspan font-size="82" stroke="none">%</tspan><tspan font-size="59" stroke="none">)</tspan></text>
<g id="abc">
<text transform="translate(215.2 175.9) scale(1.05 1.065)" font-size="64">A</text>
<text transform="translate(219.7 412.0) scale(1 1.067)" font-size="64">B</text>
<text transform="translate(207.2 779.2) scale(0.99 1.059)" font-size="64">C</text>
</g>
<g id="peaks">
<text transform="translate(472.5 187.7) rotate(-90) scale(1 1.069)" font-size="61.3" x="1.1 37.3 73.6 109.9" stroke="#000" stroke-width="1.0" stroke-linejoin="miter">3377</text>
<clipPath id="c4" clipPathUnits="userSpaceOnUse"><path clip-rule="evenodd" d="M-198 -200H402V200H-198ZM3.41 -12.50H14.73V3.41H3.41ZM24.12 -12.50H34.65V3.41H24.12Z"/></clipPath>
<text transform="translate(1380.4 168.9) rotate(-90) scale(1 1.095)" font-size="56.8" x="2.3 34.6 68.2 101.8" stroke="#000" stroke-width="1.0" stroke-linejoin="miter" clip-path="url(#c4)">1557</text>
<clipPath id="c5" clipPathUnits="userSpaceOnUse"><path clip-rule="evenodd" d="M-198 -200H411V200H-198ZM3.70 -13.57H16.07V3.70H3.70ZM26.13 -13.57H37.63V3.70H26.13Z"/></clipPath>
<text transform="translate(1486.6 181.3) rotate(-90) scale(1 1.088)" font-size="61.7" x="2.5 37.5 74.1 110.5" stroke="#000" stroke-width="1.0" stroke-linejoin="miter" clip-path="url(#c5)">1352</text>
<clipPath id="c6" clipPathUnits="userSpaceOnUse"><path clip-rule="evenodd" d="M-199 -200H375V200H-199ZM40.52 -13.68H53.00V3.73H40.52ZM63.13 -13.68H74.73V3.73H63.13Z"/></clipPath>
<text transform="translate(1784.5 157.4) rotate(-90) scale(1 1.073)" font-size="62.2" x="1.1 39.3 74.7" stroke="#000" stroke-width="1.0" stroke-linejoin="miter" clip-path="url(#c6)">813</text>
<clipPath id="c7" clipPathUnits="userSpaceOnUse"><path clip-rule="evenodd" d="M-198 -200H386V200H-198ZM2.89 -10.54H12.42V2.87H2.89ZM20.39 -10.54H29.24V2.87H20.39Z"/></clipPath>
<text transform="translate(1456.6 1061.2) rotate(-90) scale(1 1.095)" font-size="47.9" x="1.9 29.2 57.6 86.0" stroke="#000" stroke-width="0.8" stroke-linejoin="miter" clip-path="url(#c7)">1390</text>
<clipPath id="c8" clipPathUnits="userSpaceOnUse"><path clip-rule="evenodd" d="M-198 -200H411V200H-198ZM3.70 -13.57H16.07V3.70H3.70ZM26.13 -13.57H37.63V3.70H26.13Z"/></clipPath>
<text transform="translate(1610.5 1089.7) rotate(-90) scale(1 1.086)" font-size="61.7" x="2.5 37.6 74.0 110.5" stroke="#000" stroke-width="1.0" stroke-linejoin="miter" clip-path="url(#c8)">1006</text>
</g>
</svg></body></html>
